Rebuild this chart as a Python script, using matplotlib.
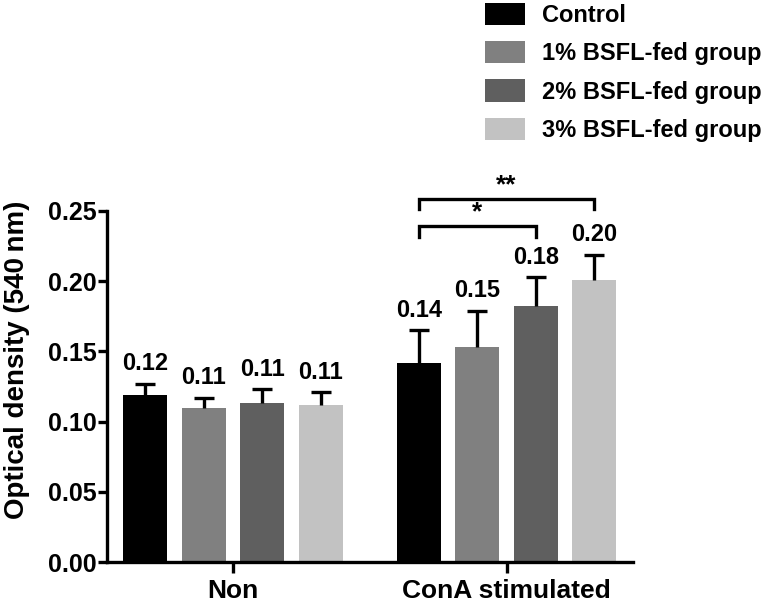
import numpy as np
import matplotlib.pyplot as plt
from matplotlib.patches import Patch

plt.rcParams['font.family'] = ['Liberation Sans', 'DejaVu Sans']
plt.rcParams['font.weight'] = 'bold'

groups = ['Non', 'ConA stimulated']
series = ['Control', '1% BSFL-fed group', '2% BSFL-fed group', '3% BSFL-fed group']
colors = ['#000000', '#808080', '#5f5f5f', '#c2c2c2']
means = [
    [0.119, 0.142],
    [0.110, 0.153],
    [0.113, 0.182],
    [0.112, 0.201],
]
errs = [
    [0.008, 0.023],
    [0.007, 0.026],
    [0.010, 0.021],
    [0.009, 0.018],
]
labels = [
    ['0.12', '0.14'],
    ['0.11', '0.15'],
    ['0.11', '0.18'],
    ['0.11', '0.20'],
]
# significance brackets: (from series, to series, y, text)
sig = [(0, 3, 0.2586, '**'), (0, 2, 0.2393, '*')]

fig = plt.figure(figsize=(7.63, 6.05), dpi=100)
ax = fig.add_axes([107 / 763, 1 - 562 / 605, (633 - 107) / 763, (562 - 211) / 605])

x = np.arange(len(groups))
pitch = 0.2139
width = 0.1609
for i in range(len(series)):
    xs = x + (i - 1.5) * pitch
    ax.bar(xs, means[i], width, color=colors[i], label=series[i], zorder=2)
    eb = ax.errorbar(xs, means[i], yerr=[np.zeros(len(groups)), errs[i]], fmt='none',
                     ecolor='black', elinewidth=2.4, capsize=7.5, capthick=2.4, zorder=3)
    eb[1][0].set_visible(False)  # no lower cap
    for j in range(len(groups)):
        ax.annotate(labels[i][j], (xs[j], means[i][j] + errs[i][j]), xytext=(0, 6),
                    textcoords='offset points', ha='center', va='bottom',
                    fontsize=17, fontweight='bold', annotation_clip=False)

# brackets on ConA group
for a, b, y, t in sig:
    xa = x[1] + (a - 1.5) * pitch
    xb = x[1] + (b - 1.5) * pitch
    ax.plot([xa, xa, xb, xb], [y - 0.0075, y, y, y - 0.0075], color='black',
            lw=2.4, clip_on=False, solid_joinstyle='miter')
    ax.text((xa + xb) / 2, y + 0.0012, t, ha='center', va='bottom', fontsize=19,
            fontweight='bold', clip_on=False)

ax.set_xlim(-0.4607, 1.4625)
ax.set_ylim(0, 0.25)
ax.set_yticks([0, 0.05, 0.10, 0.15, 0.20, 0.25])
ax.set_yticklabels(['0.00', '0.05', '0.10', '0.15', '0.20', '0.25'])
ax.set_xticks(x)
ax.set_xticklabels(groups)
for s in ['top', 'right']:
    ax.spines[s].set_visible(False)
for s in ['left', 'bottom']:
    ax.spines[s].set_linewidth(2.4)
ax.tick_params(axis='y', width=2.4, length=6.5, labelsize=18, pad=1)
ax.tick_params(axis='x', width=2.4, length=8, labelsize=19, pad=4)
for lab in ax.get_xticklabels() + ax.get_yticklabels():
    lab.set_fontweight('bold')
ax.set_ylabel('Optical density (540\u2009nm)', fontsize=20, fontweight='bold')
ax.yaxis.set_label_coords(-0.146, 0.575)

handles = [Patch(facecolor=c) for c in colors]
fig.legend(handles, series, loc='upper left', bbox_to_anchor=(485 / 763, 1 - 3 / 605),
           frameon=False, handlelength=1.7, handleheight=1.06,
           handletextpad=0.72, labelspacing=0.6, borderpad=0, borderaxespad=0,
           prop={'weight': 'bold', 'size': 17})

fig.savefig('out.png', dpi=100)
